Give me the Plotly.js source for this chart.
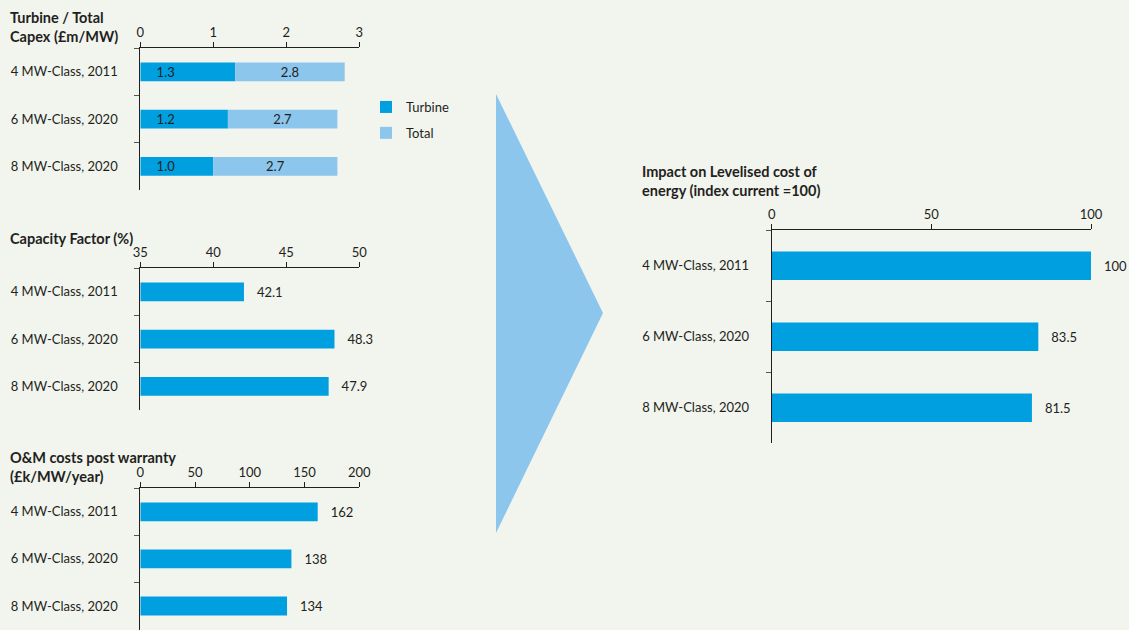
<!DOCTYPE html>
<html>
<head>
<meta charset="utf-8">
<script src="https://cdn.plot.ly/plotly-3.0.1.min.js"></script>
<style>html,body{margin:0;padding:0;background:#f2f4ee;}</style>
</head>
<body>
<div id="chart" style="width:1129px;height:630px;"></div>
<script>
const categories = ["4 MW-Class, 2011", "6 MW-Class, 2020", "8 MW-Class, 2020"];
const turbineCapex = [1.3, 1.2, 1.0];
const totalCapex = [2.8, 2.7, 2.7];
const capacityFactor = [42.1, 48.3, 47.9];
const omCosts = [162, 138, 134];
const lcoeIndex = [100, 83.5, 81.5];

const capexTicks = [0, 1, 2, 3];
const cfTicks = [35, 40, 45, 50];
const omTicks = [0, 50, 100, 150, 200];
const lcoeTicks = [0, 50, 100];

const DARK = "#009fdf";
const LIGHT = "#8cc6ed";
const TXT = "#231f20";
const FONT = "Lato, 'Open Sans', sans-serif";
const FS = 13;
const pad = "\u00a0\u00a0\u00a0";

const traces = [
  {
    type: "bar", orientation: "h", name: "Turbine", legendgroup: "a",
    y: categories, x: turbineCapex,
    text: turbineCapex.map(v => pad + "\u00a0" + v.toFixed(1)),
    textposition: "inside", insidetextanchor: "start", constraintext: "none",
    textfont: {color: TXT, size: FS, family: FONT},
    marker: {color: DARK}, xaxis: "x", yaxis: "y", hoverinfo: "skip"
  },
  {
    type: "bar", orientation: "h", name: "Total", legendgroup: "b",
    y: categories, x: totalCapex.map((t, i) => t - turbineCapex[i]), base: turbineCapex,
    text: totalCapex.map(v => v.toFixed(1)),
    textposition: "inside", insidetextanchor: "middle", constraintext: "none",
    textfont: {color: TXT, size: FS, family: FONT},
    marker: {color: LIGHT}, xaxis: "x", yaxis: "y", hoverinfo: "skip"
  },
  {
    type: "bar", orientation: "h", showlegend: false,
    y: categories, x: capacityFactor.map(v => v - 35), base: capacityFactor.map(() => 35),
    text: capacityFactor.map(v => pad + v.toFixed(1)),
    textposition: "outside", cliponaxis: false, constraintext: "none",
    textfont: {color: TXT, size: FS, family: FONT},
    marker: {color: DARK}, xaxis: "x2", yaxis: "y2", hoverinfo: "skip"
  },
  {
    type: "bar", orientation: "h", showlegend: false,
    y: categories, x: omCosts,
    text: omCosts.map(v => pad + String(v)),
    textposition: "outside", cliponaxis: false, constraintext: "none",
    textfont: {color: TXT, size: FS, family: FONT},
    marker: {color: DARK}, xaxis: "x3", yaxis: "y3", hoverinfo: "skip"
  },
  {
    type: "bar", orientation: "h", showlegend: false,
    y: categories, x: lcoeIndex,
    text: lcoeIndex.map(v => pad + String(v)),
    textposition: "outside", cliponaxis: false, constraintext: "none",
    textfont: {color: TXT, size: FS, family: FONT},
    marker: {color: DARK}, xaxis: "x4", yaxis: "y4", hoverinfo: "skip"
  }
];

function xax(range, ticks, dom, anchor) {
  return {
    domain: dom, anchor: anchor, side: "top", range: range,
    tickmode: "array", tickvals: ticks, ticktext: ticks.map(String),
    showline: true, linecolor: TXT, linewidth: 1, mirror: false,
    ticks: "outside", ticklen: 5, tickcolor: TXT, tickwidth: 1,
    showgrid: false, zeroline: false, fixedrange: true,
    tickfont: {family: FONT, size: FS, color: TXT}
  };
}
function yax(dom, anchor) {
  return {
    domain: dom, anchor: anchor, type: "category",
    categoryorder: "array", categoryarray: categories,
    range: [2.5, -0.5],
    showline: true, linecolor: TXT, linewidth: 1,
    ticks: "outside", tickson: "boundaries", ticklen: 5, tickcolor: "#555", tickwidth: 1,
    ticklabelstandoff: 19,
    showgrid: false, zeroline: false, fixedrange: true,
    tickfont: {family: FONT, size: FS, color: TXT}
  };
}
const W = 1129, H = 630;
const px = v => v / W, py = v => 1 - v / H;

const layout = {
  width: W, height: H,
  margin: {l: 0, r: 0, t: 0, b: 0},
  paper_bgcolor: "#f2f4ee", plot_bgcolor: "rgba(0,0,0,0)",
  barmode: "overlay", bargap: 0.6,
  font: {family: FONT, color: TXT, size: FS},
  showlegend: true,
  legend: {x: px(366), y: py(92), xanchor: "left", yanchor: "top",
           bgcolor: "rgba(0,0,0,0)", font: {size: FS, family: FONT, color: TXT},
           traceorder: "grouped", tracegroupgap: 6},
  xaxis: xax([0, 3], capexTicks, [px(140.3), px(359.3)], "y"),
  yaxis: yax([py(190), py(48.3)], "x"),
  xaxis2: xax([35, 50], cfTicks, [px(140.3), px(359.3)], "y2"),
  yaxis2: yax([py(410), py(268.3)], "x2"),
  xaxis3: xax([0, 200], omTicks, [px(140.3), px(359.3)], "y3"),
  yaxis3: yax([py(629.5), py(488.3)], "x3"),
  xaxis4: xax([0, 100], lcoeTicks, [px(771.7), px(1091)], "y4"),
  yaxis4: yax([py(443.3), py(230.3)], "x4"),
  shapes: [{
    type: "path", xref: "paper", yref: "paper",
    path: `M ${px(496)},${py(94)} L ${px(603)},${py(313)} L ${px(496)},${py(533)} Z`,
    fillcolor: LIGHT, line: {width: 0}, layer: "below"
  }],
  annotations: [
    {text: "<b>Turbine / Total<br>Capex (£m/MW)</b>", x: px(8), y: py(7), xanchor: "left", yanchor: "top", align: "left"},
    {text: "<b>Capacity Factor (%)</b>", x: px(8), y: py(228), xanchor: "left", yanchor: "top", align: "left"},
    {text: "<b>O&M costs post warranty<br>(£k/MW/year)</b>", x: px(8), y: py(447), xanchor: "left", yanchor: "top", align: "left"},
    {text: "<b>Impact on Levelised cost of<br>energy (index current =100)</b>", x: px(640), y: py(161), xanchor: "left", yanchor: "top", align: "left"}
  ].map(a => Object.assign({xref: "paper", yref: "paper", showarrow: false,
     font: {family: FONT, size: 14.5, color: TXT}}, a))
};

Plotly.newPlot("chart", traces, layout, {displayModeBar: false, staticPlot: true});
</script>
</body>
</html>
